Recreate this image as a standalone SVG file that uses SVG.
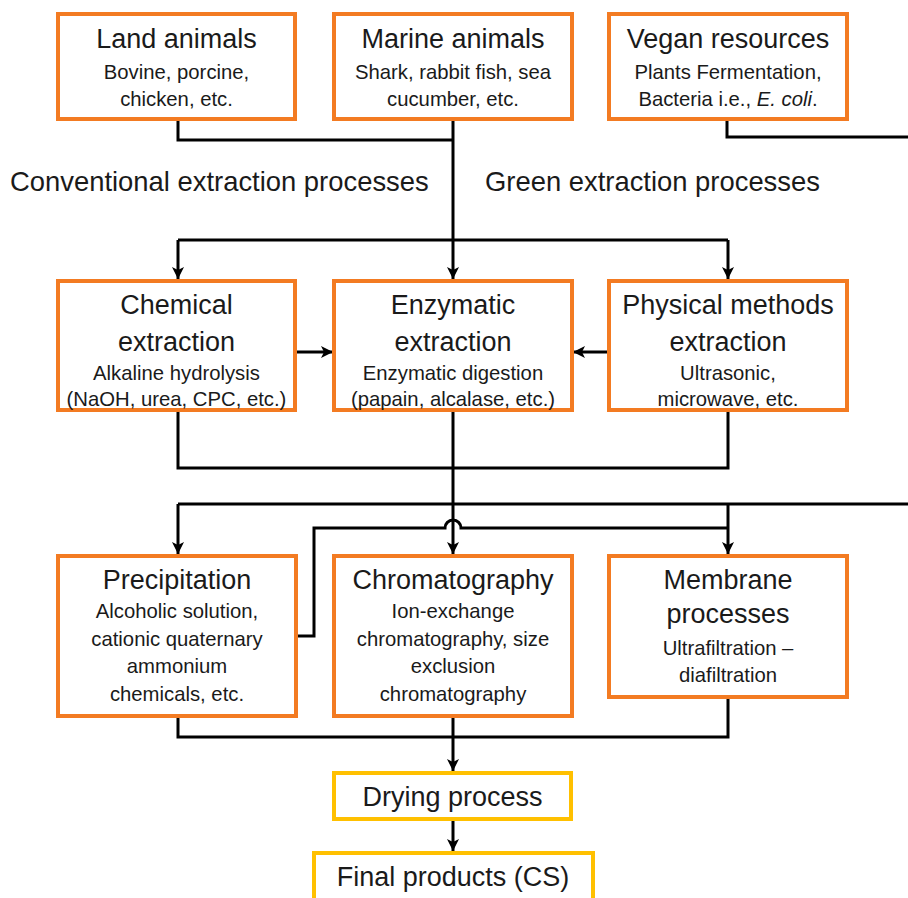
<svg xmlns="http://www.w3.org/2000/svg" width="908" height="898" viewBox="0 0 908 898">
<defs>
<marker id="ah" markerUnits="userSpaceOnUse" markerWidth="14" markerHeight="14" refX="12" refY="6" orient="auto">
<path d="M0,0 L12,6 L0,12 L3,6 z" fill="#000"/>
</marker>
<style>
.box{fill:#fff;stroke:#F37B22;stroke-width:4}
.ybox{fill:#fff;stroke:#FFC000;stroke-width:4}
.t{font-family:"Liberation Sans",Arial,sans-serif;font-size:27px;fill:#1a1a1a;text-anchor:middle}
.s{font-family:"Liberation Sans",Arial,sans-serif;font-size:20.3px;fill:#1a1a1a;text-anchor:middle}
.lab{font-family:"Liberation Sans",Arial,sans-serif;font-size:27.4px;fill:#1a1a1a}
.c{fill:none;stroke:#000;stroke-width:3}
.a{fill:none;stroke:#000;stroke-width:3;marker-end:url(#ah)}
</style>
</defs>
<rect width="908" height="898" fill="#fff"/>
<g id="connectors">
<path class="c" d="M178,119 V140 H453"/>
<path class="a" d="M453,119 V279"/>
<path class="a" d="M178,240 V279"/>
<path class="c" d="M178,240 H728"/>
<path class="a" d="M728,240 V279"/>
<path class="c" d="M727,119 V137 H908"/>
<path class="a" d="M295,352 H333"/>
<path class="a" d="M609,352 H573"/>
<path class="c" d="M178,410 V468 H728 V410"/>
<path class="a" d="M453,410 V554"/>
<path class="c" d="M908,504 H178"/>
<path class="a" d="M178,504 V554"/>
<path class="a" d="M728,504 V554"/>
<path class="c" d="M296,636 H314 V528 H445 A8,8 0 0 1 461,528 H728"/>
<path class="c" d="M178,716 V737 H728 V697"/>
<path class="a" d="M453,716 V771"/>
<path class="a" d="M453,819 V851"/>
</g>
<g id="land">
<rect class="box" x="58" y="14" width="237" height="105"/>
<text class="t" x="176.5" y="48">Land animals</text>
<text class="s" x="176.5" y="79">Bovine, porcine,</text>
<text class="s" x="176.5" y="106">chicken, etc.</text>
</g>
<g id="marine">
<rect class="box" x="334" y="14" width="238" height="105"/>
<text class="t" x="453" y="48">Marine animals</text>
<text class="s" x="453" y="79">Shark, rabbit fish, sea</text>
<text class="s" x="453" y="106">cucumber, etc.</text>
</g>
<g id="vegan">
<rect class="box" x="609" y="14" width="238" height="105"/>
<text class="t" x="728" y="48">Vegan resources</text>
<text class="s" x="728" y="79">Plants Fermentation,</text>
<text class="s" x="728" y="106">Bacteria i.e., <tspan font-style="italic">E. coli</tspan>.</text>
</g>
<g id="labels">
<text class="lab" x="10" y="191">Conventional extraction processes</text>
<text class="lab" x="485" y="191">Green extraction processes</text>
</g>
<g id="chemical">
<rect class="box" x="58" y="281" width="237" height="129"/>
<text class="t" x="176.5" y="314">Chemical</text>
<text class="t" x="176.5" y="351">extraction</text>
<text class="s" x="176.5" y="380">Alkaline hydrolysis</text>
<text class="s" x="176.5" y="406">(NaOH, urea, CPC, etc.)</text>
</g>
<g id="enzymatic">
<rect class="box" x="334" y="281" width="238" height="129"/>
<text class="t" x="453" y="314">Enzymatic</text>
<text class="t" x="453" y="351">extraction</text>
<text class="s" x="453" y="380">Enzymatic digestion</text>
<text class="s" x="453" y="406">(papain, alcalase, etc.)</text>
</g>
<g id="physical">
<rect class="box" x="609" y="281" width="238" height="129"/>
<text class="t" x="728" y="314">Physical methods</text>
<text class="t" x="728" y="351">extraction</text>
<text class="s" x="728" y="380">Ultrasonic,</text>
<text class="s" x="728" y="406">microwave, etc.</text>
</g>
<g id="precipitation">
<rect class="box" x="58" y="556" width="238" height="160"/>
<text class="t" x="177" y="589">Precipitation</text>
<text class="s" x="177" y="618">Alcoholic solution,</text>
<text class="s" x="177" y="646">cationic quaternary</text>
<text class="s" x="177" y="673">ammonium</text>
<text class="s" x="177" y="701">chemicals, etc.</text>
</g>
<g id="chromatography">
<rect class="box" x="334" y="556" width="238" height="160"/>
<text class="t" x="453" y="589">Chromatography</text>
<text class="s" x="453" y="618">Ion-exchange</text>
<text class="s" x="453" y="646">chromatography, size</text>
<text class="s" x="453" y="673">exclusion</text>
<text class="s" x="453" y="701">chromatography</text>
</g>
<g id="membrane">
<rect class="box" x="609" y="556" width="238" height="141"/>
<text class="t" x="728" y="589">Membrane</text>
<text class="t" x="728" y="623">processes</text>
<text class="s" x="728" y="655">Ultrafiltration –</text>
<text class="s" x="728" y="682">diafiltration</text>
</g>
<g id="drying">
<rect class="ybox" x="334" y="773" width="237" height="46"/>
<text class="t" x="452.5" y="806">Drying process</text>
</g>
<g id="final">
<rect class="ybox" x="314" y="853" width="279" height="60"/>
<text class="t" x="453" y="886">Final products (CS)</text>
</g>
</svg>
